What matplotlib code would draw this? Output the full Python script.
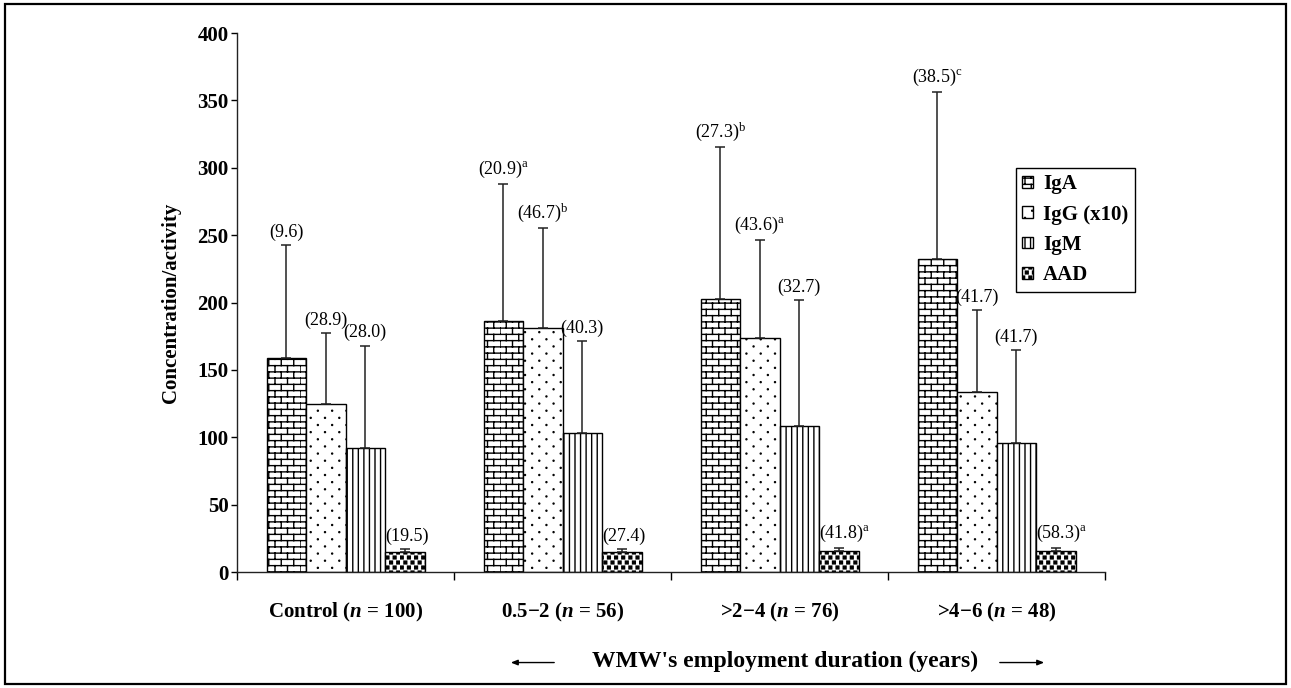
import warnings
import numpy as np
import matplotlib
matplotlib.use('Agg')
import matplotlib.pyplot as plt
from matplotlib import hatch as mhatch
from matplotlib.path import Path
from matplotlib.patches import Patch, Rectangle, FancyArrowPatch

warnings.filterwarnings('ignore')

# data
groups = ['Control', '0.5\u22122', '>2\u22124', '>4\u22126']
n_sizes = [100, 56, 76, 48]
series = ['IgA', 'IgG (x10)', 'IgM', 'AAD']

iga = [158.8, 186.5, 202.5, 232]
iga_err = [84, 101.5, 113, 124]
igg = [124.4, 180.8, 174, 133.5]
igg_err = [53, 74.5, 72.5, 61]
igm = [92, 103, 108, 96]
igm_err = [76, 68.5, 94, 69]
aad = [15, 15, 15.5, 15.5]
aad_err = [2, 2, 2, 2]

# coefficient of variation labels and significance letters
iga_cv = ['9.6', '20.9', '27.3', '38.5']
iga_sup = ['', 'a', 'b', 'c']
igg_cv = ['28.9', '46.7', '43.6', '41.7']
igg_sup = ['', 'b', 'a', '']
igm_cv = ['28.0', '40.3', '32.7', '41.7']
igm_sup = ['', '', '', '']
aad_cv = ['19.5', '27.4', '41.8', '58.3']
aad_sup = ['', '', 'a', 'a']


# custom hatches: brick wall, sparse dots, filled squares
class BrickHatch(mhatch.HatchPatternBase):
    rows, cols = 16, 8

    def __init__(self, hatch, density):
        on = 'b' in hatch
        self.num_vertices = (self.rows * 2 + (self.rows + 1) * self.cols * 2) if on else 0

    def set_vertices_and_codes(self, vertices, codes):
        h = 1.0 / self.rows
        w = 1.0 / self.cols
        v = []
        for r in range(self.rows):
            y0 = r * h + h / 2
            v += [(0, y0), (1, y0)]
        for r in range(-1, self.rows):
            y0 = r * h + h / 2
            off = w / 2 if r % 2 else 0
            for c in range(self.cols):
                xx = c * w + off
                v += [(xx, y0), (xx, y0 + h)]
        vertices[:] = v
        codes[0::2] = Path.MOVETO
        codes[1::2] = Path.LINETO


class Lattice(mhatch.HatchPatternBase):
    char = ''
    rows, cols, size = 10, 10, 0.01
    shape = Path.unit_circle()
    centre = 0.0

    def __init__(self, hatch, density):
        n = self.rows * self.cols if self.char in hatch else 0
        self.num_vertices = n * len(self.shape.vertices)

    def set_vertices_and_codes(self, vertices, codes):
        sv = (self.shape.vertices - self.centre) * self.size
        parts, cparts = [], []
        for r in range(self.rows):
            yy = (r + 0.5) / self.rows
            off = 0.5 / self.cols if r % 2 else 0
            for c in range(self.cols):
                xx = (c + 0.25) / self.cols + off
                parts.append(sv + [xx, yy])
                cparts.append(self.shape.codes)
        vertices[:] = np.concatenate(parts)
        codes[:] = np.concatenate(cparts)


class SparseDots(Lattice):
    char = 'd'
    rows, cols, size = 14, 7, 0.005


class FilledSquares(Lattice):
    char = 's'
    rows, cols, size = 20, 14, 0.028
    shape = Path.unit_rectangle()
    centre = 0.5


mhatch._hatch_types.extend([BrickHatch, SparseDots, FilledSquares])

plt.rcParams['font.family'] = ['Liberation Serif', 'DejaVu Serif']
plt.rcParams['mathtext.fontset'] = 'custom'
plt.rcParams['mathtext.rm'] = 'Liberation Serif'
plt.rcParams['mathtext.it'] = 'Liberation Serif:italic:bold'
plt.rcParams['mathtext.bf'] = 'Liberation Serif:bold'
plt.rcParams['hatch.linewidth'] = 1.0

fig = plt.figure(figsize=(12.91, 6.88), dpi=100)
ax = fig.add_axes([0.1836, 0.1686, 0.6724, 0.7834])

x = np.arange(len(groups))
w = 0.182
hatches = ['b', 'd', '|||', 's']
vals = [iga, igg, igm, aad]
errs = [iga_err, igg_err, igm_err, aad_err]
cvs = [iga_cv, igg_cv, igm_cv, aad_cv]
sups = [iga_sup, igg_sup, igm_sup, aad_sup]

for i in range(4):
    xi = x + (i - 1.5) * w
    ax.bar(xi, vals[i], w, color='white', edgecolor='black', hatch=hatches[i],
           linewidth=1.0, zorder=2)
    ax.errorbar(xi, vals[i], yerr=[np.zeros(4), errs[i]], fmt='none', ecolor='#222222',
                elinewidth=1.1, capsize=3.6, capthick=1.1, zorder=3)
    for j in range(4):
        txt = '(' + cvs[i][j] + ')'
        if sups[i][j]:
            txt += r'$^{\rm ' + sups[i][j] + '}$'
        top = vals[i][j] + errs[i][j]
        if i == 3:
            ax.annotate(txt, xy=(xi[j] - w / 2, top), xytext=(0, 3), textcoords='offset points',
                        ha='left', va='bottom', fontsize=13)
        else:
            ax.annotate(txt, xy=(xi[j], top), xytext=(0, 3), textcoords='offset points',
                        ha='center', va='bottom', fontsize=13)

ax.set_xlim(-0.5, 3.5)
ax.set_ylim(0, 400)
ax.set_yticks(np.arange(0, 401, 50))
for lab in ax.get_yticklabels():
    lab.set_fontweight('bold')
ax.tick_params(axis='y', length=4, width=1, labelsize=15, pad=2)

ax.set_xticks(x)
ax.set_xticklabels([f'{g} ($n$ = {n})' for g, n in zip(groups, n_sizes)],
                   fontsize=15, fontweight='bold')
ax.tick_params(axis='x', which='major', length=0, pad=21)
ax.set_xticks(np.arange(-0.5, 4, 1), minor=True)
ax.tick_params(axis='x', which='minor', length=6, width=1, direction='out')

for s in ['top', 'right']:
    ax.spines[s].set_visible(False)
for s in ['left', 'bottom']:
    ax.spines[s].set_linewidth(1.0)
    ax.spines[s].set_color('#222222')

ax.set_ylabel('Concentration/activity', fontsize=15, fontweight='bold', labelpad=12)

handles = [Patch(facecolor='white', edgecolor='black', hatch=h, linewidth=1.0) for h in hatches]
leg = fig.legend(handles, series, loc='upper left', bbox_to_anchor=(0.787, 0.756),
                 prop={'weight': 'bold', 'size': 15}, handlelength=0.5, handleheight=0.5,
                 handletextpad=0.5, labelspacing=0.5, borderpad=0.3, borderaxespad=0,
                 fancybox=False, edgecolor='black', framealpha=1)
leg.get_frame().set_linewidth(1.0)

# axis title with arrows
fig.text(0.608, 0.038, "WMW's employment duration (years)", ha='center', va='center',
         fontsize=17, fontweight='bold')
for a, b in [(557, 508), (997, 1047)]:
    fig.add_artist(FancyArrowPatch((a / 1291, 0.037), (b / 1291, 0.037),
                   transform=fig.transFigure, arrowstyle='-|>,head_length=4,head_width=1.6',
                   lw=1, color='black'))

fig.patches.append(Rectangle((0.004, 0.006), 0.992, 0.988, transform=fig.transFigure,
                             fill=False, lw=1.6, edgecolor='black'))

fig.savefig('out.png', dpi=100)
